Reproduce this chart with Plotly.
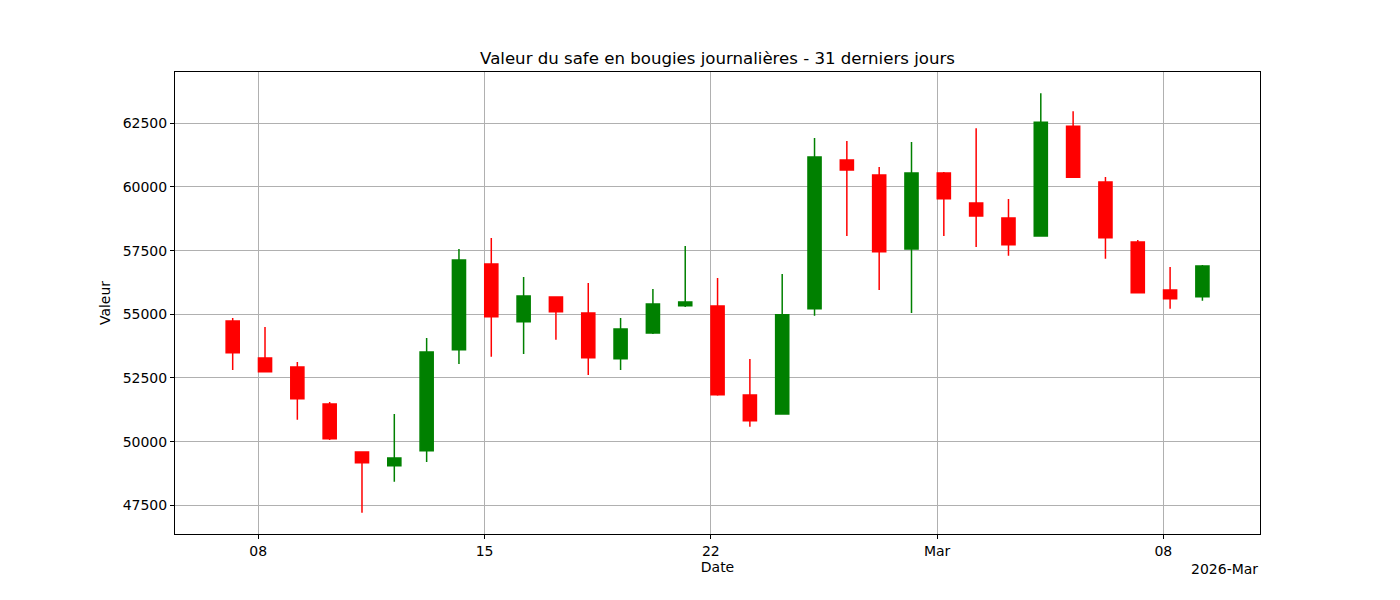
import plotly.graph_objects as go

# bougies journalieres (horodatage du releve)
dates = ["2026-02-%02d 05:00" % d for d in range(7, 29)] + ["2026-03-%02d 05:00" % d for d in range(1, 10)]

opens = [54735, 53285, 52930, 51480, 49595, 49055, 49640, 53610, 56975, 54710,
         55680, 55050, 53255, 54265, 55340, 55325, 51830, 51085, 55220, 61060,
         60470, 57565, 60550, 59370, 58780, 58075, 62380, 60195, 57840, 55955,
         55690]
highs = [54855, 54500, 53125, 51555, 49600, 51085, 54070, 57565, 57995, 56460,
         55690, 56230, 54855, 55995, 57680, 56425, 53245, 56580, 61925, 61805,
         60785, 61765, 60590, 62305, 59525, 63680, 62970, 60390, 57920, 56855,
         56935]
lows = [52815, 52725, 50860, 50065, 47210, 48425, 49200, 53050, 53335, 53440,
        54005, 52620, 52810, 54225, 55285, 51805, 50585, 51080, 54945, 58075,
        55955, 55050, 58075, 57645, 57300, 58070, 60370, 57185, 55840, 55220,
        55535]
closes = [53490, 52745, 51685, 50115, 49170, 49355, 53520, 57130, 54905, 55720,
          55100, 53295, 54425, 55405, 55485, 51845, 50820, 54985, 61175, 60665,
          57460, 60550, 59535, 58860, 57735, 62540, 60380, 58010, 55850, 55615,
          56895]

tick_dates = ["2026-02-08", "2026-02-15", "2026-02-22", "2026-03-01", "2026-03-08"]
tick_labels = ["08", "15", "22", "Mar", "08"]
y_ticks = [47500, 50000, 52500, 55000, 57500, 60000, 62500]

fig = go.Figure()
fig.add_trace(go.Candlestick(
    x=dates, open=opens, high=highs, low=lows, close=closes,
    increasing=dict(line=dict(color="green", width=1.5), fillcolor="green"),
    decreasing=dict(line=dict(color="red", width=1.5), fillcolor="red"),
    whiskerwidth=0, showlegend=False, hoverinfo="x+y"))

axis_style = dict(showline=True, linecolor="black", linewidth=1, mirror=True,
                  ticks="outside", ticklen=4, tickcolor="black",
                  showgrid=True, gridcolor="#b0b0b0", gridwidth=1,
                  zeroline=False, tickfont=dict(size=14, color="black"))

fig.update_layout(
    width=1400, height=600,
    paper_bgcolor="white", plot_bgcolor="white",
    font=dict(family="DejaVu Sans", color="black"),
    margin=dict(l=167, r=148, t=64, b=74),
    boxgap=0.42,
    title=dict(text="Valeur du safe en bougies journalières - 31 derniers jours",
               x=(167 + 1252) / 2 / 1400, xanchor="center",
               y=1 - 50 / 600, yanchor="middle", font=dict(size=16.6, color="black")),
    xaxis=dict(axis_style, type="date", range=["2026-02-05 10:10", "2026-03-10 23:45"],
               tickvals=tick_dates, ticktext=tick_labels, rangeslider=dict(visible=False),
               title=dict(text="Date", font=dict(size=14), standoff=2)),
    yaxis=dict(axis_style, range=[46372, 64515], tickvals=y_ticks,
               ticktext=[str(v) for v in y_ticks],
               title=dict(text="Valeur", font=dict(size=14), standoff=8)),
    annotations=[dict(text="2026-Mar", xref="paper", yref="paper", x=1, y=0,
                      xanchor="right", yanchor="top", yshift=-25, showarrow=False,
                      font=dict(size=14, color="black"))],
)

fig.write_html("out.html")
